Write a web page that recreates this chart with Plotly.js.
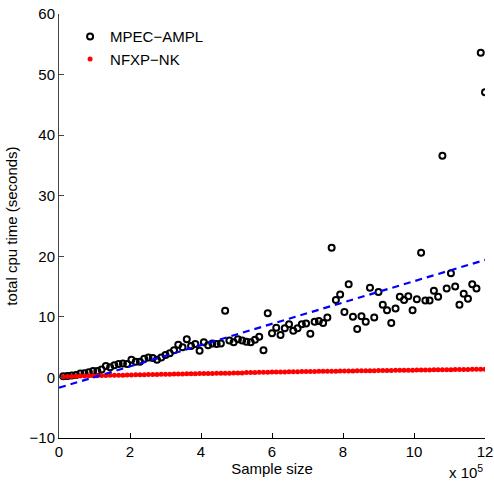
<!DOCTYPE html>
<html>
<head>
<meta charset="utf-8">
<script src="https://cdn.plot.ly/plotly-3.0.1.min.js"></script>
<style>
html,body{margin:0;padding:0;background:#fff;}
#chart{width:494px;height:483px;}
</style>
</head>
<body>
<div id="chart"></div>
<script>
// Sample sizes (raw counts)
const sampleSize = [
  12000,24000,36000,48000,60000,72000,84000,96000,108000,120000,
  132000,144000,156000,168000,180000,192000,204000,216000,228000,240000,
  252000,264000,276000,288000,300000,312000,324000,336000,348000,360000,
  372000,384000,396000,408000,420000,432000,444000,456000,468000,480000,
  492000,504000,516000,528000,540000,552000,564000,576000,588000,600000,
  612000,624000,636000,648000,660000,672000,684000,696000,708000,720000,
  732000,744000,756000,768000,780000,792000,804000,816000,828000,840000,
  852000,864000,876000,888000,900000,912000,924000,936000,948000,960000,
  972000,984000,996000,1008000,1020000,1032000,1044000,1056000,1068000,1080000,
  1092000,1104000,1116000,1128000,1140000,1152000,1164000,1176000,1188000,1200000
];
// MPEC-AMPL total cpu time (seconds)
const mpecTime = [
  0.2,0.25,0.3,0.4,0.65,0.7,0.85,1.05,1.05,1.3,
  1.9,1.7,2.0,2.2,2.3,2.2,2.9,2.6,2.6,3.1,
  3.3,3.2,2.9,3.3,3.7,4.0,4.5,5.4,5.0,6.3,
  5.2,5.5,4.4,5.8,5.3,5.6,5.5,5.6,11.0,6.1,
  5.8,6.3,6.1,5.9,5.8,6.2,6.7,4.5,10.6,7.3,
  8.2,7.0,8.1,8.8,7.7,8.1,8.8,8.9,7.2,9.2,
  9.3,9.0,9.9,21.4,12.8,13.7,10.8,15.4,10.0,8.0,
  10.1,9.2,14.8,9.9,14.1,12.0,11.1,9.0,11.4,13.3,
  12.8,13.4,11.1,12.9,20.6,12.7,12.7,14.3,13.3,36.6,
  14.7,17.2,15.0,12.0,13.8,13.0,15.4,14.7,53.6,47.1
];
// NFXP-NK total cpu time (seconds)
const nfxpTime = [
  0.12,0.15,0.17,0.2,0.22,0.24,0.26,0.27,0.29,0.3,
  0.32,0.34,0.35,0.37,0.38,0.4,0.41,0.43,0.44,0.45,
  0.47,0.48,0.5,0.51,0.52,0.54,0.55,0.56,0.58,0.59,
  0.6,0.61,0.63,0.64,0.65,0.66,0.68,0.69,0.7,0.71,
  0.72,0.74,0.75,0.8,0.82,0.83,0.84,0.86,0.87,0.88,
  0.89,0.9,0.91,0.92,0.93,0.95,0.96,0.97,0.98,0.99,
  1.0,1.01,1.02,1.03,1.04,1.05,1.06,1.07,1.08,1.09,
  1.1,1.1,1.11,1.12,1.13,1.14,1.15,1.16,1.17,1.18,
  1.19,1.2,1.2,1.21,1.22,1.23,1.24,1.25,1.26,1.27,
  1.27,1.28,1.29,1.3,1.31,1.32,1.33,1.33,1.34,1.35
];
// Fitted trend line for MPEC-AMPL (endpoints)
const fitX = [0, 1200000];
const fitY = [-1.7, 19.4];

const xTicks = [0,2,4,6,8,10,12];
const yTicks = [-10,0,10,20,30,40,50,60];
const scale = 1e5;

const FONT = 'Liberation Sans, Arial, Helvetica, sans-serif';

const traces = [
  {
    x: sampleSize.map(v => v/scale), y: mpecTime,
    type: 'scatter', mode: 'markers', name: 'MPEC\u2212AMPL',
    marker: {symbol: 'circle-open', size: 6, color: '#000', line: {width: 2, color: '#000'}}
  },
  {
    x: sampleSize.map(v => v/scale), y: nfxpTime,
    type: 'scatter', mode: 'markers', name: 'NFXP\u2212NK',
    marker: {symbol: 'circle', size: 5, color: '#ff0000'}
  },
  {
    x: fitX.map(v => v/scale), y: fitY,
    type: 'scatter', mode: 'lines', showlegend: false, hoverinfo: 'skip',
    line: {color: '#0000ff', width: 2.2, dash: '7px,5px'}
  }
];

const layout = {
  width: 494, height: 483,
  margin: {l: 59, r: 9, t: 14, b: 45},
  paper_bgcolor: '#fff', plot_bgcolor: '#fff',
  font: {family: FONT, size: 15, color: '#000'},
  showlegend: true,
  legend: {x: 0.026, y: 0.985, xanchor: 'left', yanchor: 'top',
           bgcolor: 'rgba(0,0,0,0)', borderwidth: 0, font: {size: 15, family: FONT},
           tracegroupgap: 0},
  xaxis: {
    range: [0, 12], tickvals: xTicks, ticktext: xTicks.map(String),
    showgrid: false, zeroline: false, showline: true, linecolor: '#000', linewidth: 1,
    ticks: 'inside', ticklen: 5, tickcolor: '#000', mirror: false,
    title: {text: 'Sample size', font: {size: 15, family: FONT}, standoff: 4}
  },
  yaxis: {
    range: [-10, 60], tickvals: yTicks,
    showgrid: false, zeroline: false, showline: true, linecolor: '#444', linewidth: 1,
    ticks: 'inside', ticklen: 5, tickcolor: '#444', mirror: false,
    title: {text: 'total cpu time (seconds)', font: {size: 15, family: FONT}, standoff: 8}
  },
  annotations: [{
    text: 'x 10<sup>5</sup>', xref: 'paper', yref: 'paper', x: 1.0, y: -0.08,
    xanchor: 'right', yanchor: 'middle', showarrow: false,
    font: {size: 15, family: FONT, color: '#000'}
  }]
};

Plotly.newPlot('chart', traces, layout, {displayModeBar: false, staticPlot: true});
</script>
</body>
</html>
